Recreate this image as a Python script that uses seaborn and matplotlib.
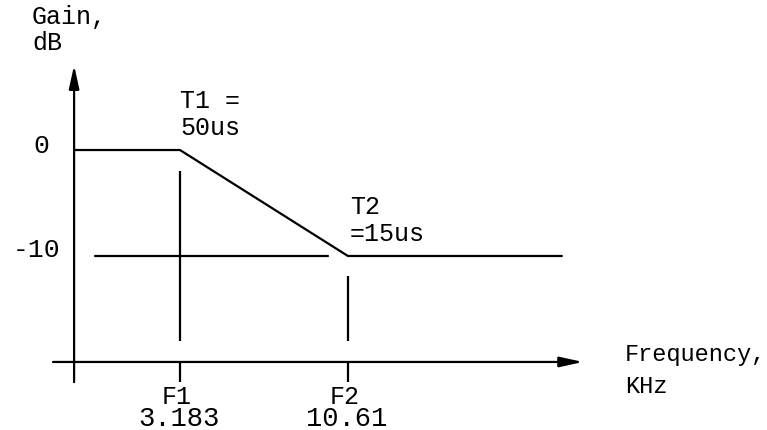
import matplotlib
matplotlib.use("Agg")
import matplotlib.pyplot as plt
import seaborn as sns

# ---- data ----
freq_khz = [1.49, 3.183, 10.61, 49.2]          # breakpoints of the response curve
gain_db = [0, 0, -10, -10]
ref_level_freq = [1.73, 9.2]                     # reference line at -10 dB
ref_level_gain = [-10, -10]
corner_freqs = [3.183, 10.61]
corner_names = ["F1", "F2"]
corner_values = ["3.183", "10.61"]
guide_top = [-2.0, -11.9]                        # upper end of the dropped guide lines
guide_bottom = -18.0
time_const_top = ["T1 =", "T2"]
time_const_bot = ["50us", "=15us"]
level_ticks = [0, -10]
level_labels = ["0", "-10"]
axis_gain = -20                                   # gain at which frequency axis is drawn
axis_freq_range = [1.281, 57.2]
gain_axis_range = [-21.9, 8.0]
tick_len_gain = -21.9

sns.set_theme(style="white")
plt.rcParams["font.family"] = ["Liberation Mono", "DejaVu Sans Mono"]

fig = plt.figure(figsize=(7.67, 4.31), dpi=100)
ax = fig.add_axes([0, 0, 1, 1])
ax.set_xscale("log")
ax.set_xlim(0.876, 214)
ax.set_ylim(-26.42, 14.25)
ax.axis("off")

lw = 1.6
k = "black"

# response curve
sns.lineplot(x=freq_khz, y=gain_db, color=k, lw=lw, ax=ax, sort=False)
sns.lineplot(x=ref_level_freq, y=ref_level_gain, color=k, lw=lw, ax=ax, sort=False)

# guide lines and ticks at corner frequencies
for f, top in zip(corner_freqs, guide_top):
    ax.plot([f, f], [top, guide_bottom], color=k, lw=lw, solid_capstyle="butt")
    ax.plot([f, f], [axis_gain, tick_len_gain], color=k, lw=lw, solid_capstyle="butt")

# axes with arrows
arrow = dict(arrowstyle="-|>,head_length=1.0,head_width=0.22", color=k, lw=lw,
             shrinkA=0, shrinkB=0, mutation_scale=14)
ax.annotate("", xy=(axis_freq_range[1], axis_gain), xytext=(axis_freq_range[0], axis_gain),
            arrowprops=arrow)
ax.annotate("", xy=(freq_khz[0], gain_axis_range[1]), xytext=(freq_khz[0], gain_axis_range[0]),
            arrowprops=arrow)

# level labels
level_offsets = [(-33, -2), (-38, 0)]
for lv, lab, off in zip(level_ticks, level_labels, level_offsets):
    ax.annotate(lab, xy=(freq_khz[0], lv), xytext=off, textcoords="offset pixels",
                ha="center", va="baseline", fontsize=19, color=k)

# time constant labels
tc_anchor = [(corner_freqs[0], 0), (corner_freqs[1], -10)]
tc_dx = [0, 2]
for (f, g), t1, t2, dx in zip(tc_anchor, time_const_top, time_const_bot, tc_dx):
    ax.annotate(t1, xy=(f, g), xytext=(dx, 43), textcoords="offset pixels",
                ha="left", va="baseline", fontsize=18, color=k)
    ax.annotate(t2, xy=(f, g), xytext=(dx, 16), textcoords="offset pixels",
                ha="left", va="baseline", fontsize=18, color=k)

# corner frequency labels
for f, name, val in zip(corner_freqs, corner_names, corner_values):
    ax.annotate(name, xy=(f, axis_gain), xytext=(-3, -41), textcoords="offset pixels",
                ha="center", va="baseline", fontsize=18, color=k)
    ax.annotate(val, xy=(f, axis_gain), xytext=(-1, -63), textcoords="offset pixels",
                ha="center", va="baseline", fontsize=19.5, color=k)

# axis titles
ax.annotate("Frequency,", xy=(axis_freq_range[1], axis_gain), xytext=(42, 2),
            textcoords="offset pixels", ha="left", va="baseline", fontsize=17, color=k)
ax.annotate("KHz", xy=(axis_freq_range[1], axis_gain), xytext=(42, -30),
            textcoords="offset pixels", ha="left", va="baseline", fontsize=17, color=k)
fig.text(32 / 767, 1 - 24 / 431, "Gain,", ha="left", va="baseline", fontsize=18, color=k)
fig.text(32 / 767, 1 - 50 / 431, "dB", ha="left", va="baseline", fontsize=18, color=k)

fig.savefig("out.png", dpi=100, facecolor="white")
